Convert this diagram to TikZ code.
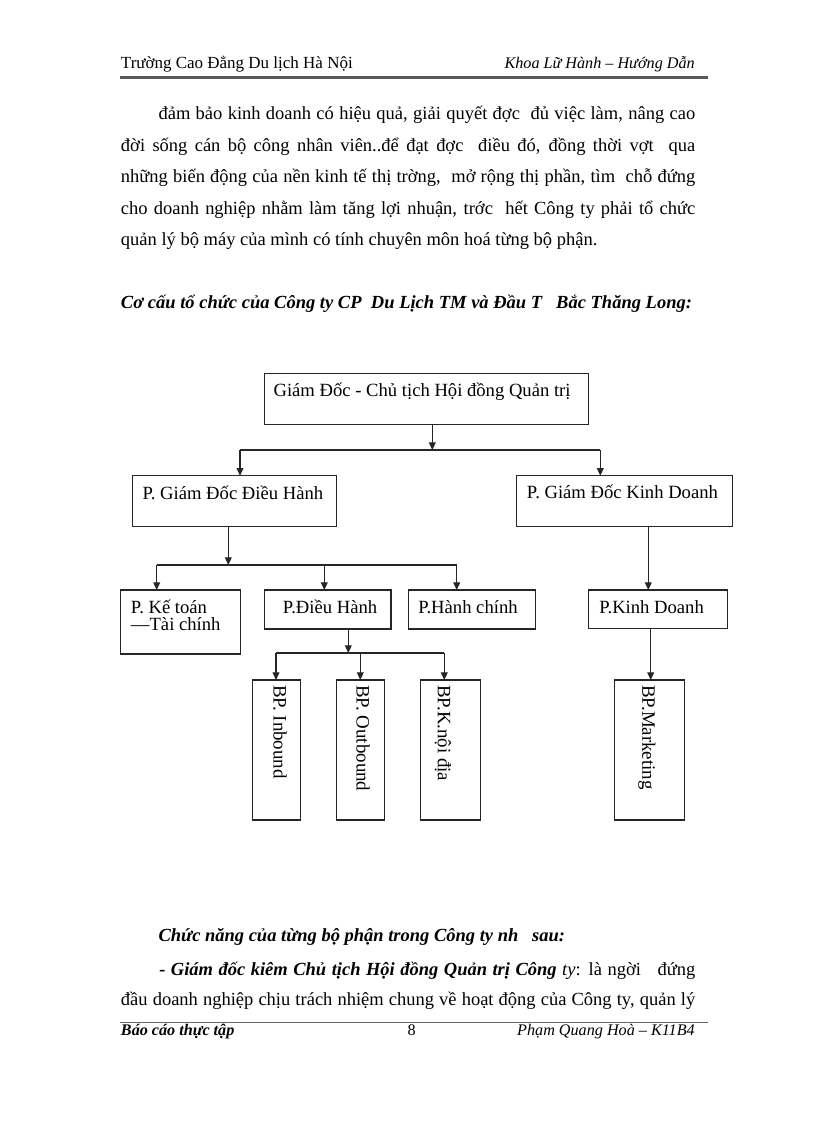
\documentclass[tikz,border=0pt]{standalone}
\usepackage{fontspec}
\setmainfont{Liberation Serif}
\usetikzlibrary{arrows.meta}
\begin{document}
\begin{tikzpicture}[x=0.73pt,y=-0.73pt,
  box/.style={draw=black!85, line width=0.8pt, inner sep=0pt, outer sep=0pt, anchor=north west},
  lbl/.style={inner sep=0pt, anchor=base west, font=\fontsize{13.6}{16}\selectfont},
  vlbl/.style={inner sep=0pt, anchor=west, rotate=-90, font=\fontsize{13.8}{16}\selectfont},
  body/.style={inner sep=0pt, anchor=base west, font=\fontsize{13.5}{16}\selectfont},
  conn/.style={draw=black!85, line width=0.8pt},
  arr/.style={conn, -{Triangle[length=5.6pt,width=5pt]}}]
\fill[white] (0,0) rectangle (816,1123);
% header
\node[inner sep=0pt, anchor=base west, font=\fontsize{12.4}{14}\selectfont] (hl) at (120.7,68.3) {Trường Cao Đẳng Du lịch Hà Nội};
\node[inner sep=0pt, anchor=base east, font=\fontsize{11.8}{14}\selectfont\itshape] (hr) at (695,68.3) {Khoa Lữ Hành – Hướng Dẫn};
\draw[line width=2pt, black!65] (120,77.8) -- (708.3,77.8);
% body text
\node[body] (l1) at (158.3,119.8) {\makebox[391.8pt][s]{đảm bảo kinh doanh có hiệu quả, giải quyết đợc \ đủ việc làm, nâng cao}};
\node[body] (l2) at (120.7,151.2) {\makebox[419.2pt][s]{đời sống cán bộ công nhân viên..để đạt đợc \ điều đó, đồng thời vợt \ qua}};
\node[body] (l3) at (120.7,182.6) {\makebox[419.2pt][s]{những biến động của nền kinh tế thị trờng, \ mở rộng thị phần, tìm \ chỗ đứng}};
\node[body] (l4) at (120.7,214) {\makebox[419.2pt][s]{cho doanh nghiệp nhằm làm tăng lợi nhuận, trớc \ hết Công ty phải tổ chức}};
\node[body] (l5) at (120.7,245.4) {quản lý bộ máy của mình có tính chuyên môn hoá từng bộ phận.};
\node[body, font=\fontsize{13.5}{16}\selectfont\bfseries\itshape] (h1) at (120.7,308.3) {\makebox[416.8pt][s]{Cơ cấu tổ chức của Công ty CP \ Du Lịch TM và Đầu T \ \ Bắc Thăng Long:}};
% chart boxes
\node[box, minimum width=324*0.73pt, minimum height=51*0.73pt] (top) at (264.3,373.3) {};
\node[box, minimum width=204.4*0.73pt, minimum height=51*0.73pt] (gddh) at (132.3,475.7) {};
\node[box, minimum width=215.6*0.73pt, minimum height=50.8*0.73pt] (gdkd) at (516.7,475.7) {};
\node[box, minimum width=119.6*0.73pt, minimum height=64*0.73pt] (kt) at (120.7,590) {};
\node[box, minimum width=126.7*0.73pt, minimum height=39*0.73pt] (dh) at (264.3,590) {};
\node[box, minimum width=127.4*0.73pt, minimum height=39*0.73pt] (hc) at (408.3,590) {};
\node[box, minimum width=139*0.73pt, minimum height=38.7*0.73pt] (kd) at (588.3,590) {};
\node[box, minimum width=48.4*0.73pt, minimum height=140*0.73pt] (bpin) at (252.3,680) {};
\node[box, minimum width=48*0.73pt, minimum height=140*0.73pt] (bpout) at (336.3,680) {};
\node[box, minimum width=60*0.73pt, minimum height=140*0.73pt] (bpnd) at (420.3,680) {};
\node[box, minimum width=70*0.73pt, minimum height=140*0.73pt] (bpmk) at (614.3,680) {};
% labels
\node[lbl] (ttop) at (273.3,396.7) {Giám Đốc - Chủ tịch Hội đồng Quản trị};
\node[lbl] (tgddh) at (142.3,499) {P. Giám Đốc Điều Hành};
\node[lbl] (tgdkd) at (526.7,498.3) {P. Giám Đốc Kinh Doanh};
\node[lbl] (tkt1) at (130.7,613) {P. Kế toán};
\node[lbl] (tkt2) at (130.7,630.7) {—Tài chính};
\node[lbl] (tdh) at (282.7,613) {P.Điều Hành};
\node[lbl] (thc) at (418,613) {P.Hành chính};
\node[lbl] (tkd) at (599,613.3) {P.Kinh Doanh};
\node[vlbl] (tin) at (280,685) {BP. Inbound};
\node[vlbl] (tout) at (363,685) {BP. Outbound};
\node[vlbl] (tnd) at (443,685) {BP.K.nội địa};
\node[vlbl] (tmk) at (647,685) {BP.Marketing};
% connectors
\coordinate (j1) at (432.3,450);
\coordinate (b1l) at (240,450);
\coordinate (b1r) at (600.3,450);
\draw[arr] (top.south -| j1) -- (j1);
\draw[conn] (b1l) -- (b1r);
\draw[arr] (b1l) -- (b1l |- gddh.north);
\draw[arr] (b1r) -- (b1r |- gdkd.north);
\coordinate (j2) at (228.3,565);
\coordinate (b2l) at (156.7,565);
\coordinate (b2m) at (324.3,565);
\coordinate (b2r) at (456.7,565);
\draw[arr] (gddh.south -| j2) -- (j2);
\draw[conn] (b2l) -- (b2r);
\draw[arr] (b2l) -- (b2l |- kt.north);
\draw[arr] (b2m) -- (b2m |- dh.north);
\draw[arr] (b2r) -- (b2r |- hc.north);
\coordinate (j4) at (648.3,560);
\draw[arr] (gdkd.south -| j4) -- (j4 |- kd.north);
\coordinate (j3) at (348.3,653);
\coordinate (b3l) at (276,653);
\coordinate (b3m) at (360.3,653);
\coordinate (b3r) at (444.3,653);
\draw[arr] (dh.south -| j3) -- (j3);
\draw[conn] (b3l) -- (b3r);
\draw[arr] (b3l) -- (b3l |- bpin.north);
\draw[arr] (b3m) -- (b3m |- bpout.north);
\draw[arr] (b3r) -- (b3r |- bpnd.north);
\coordinate (j5) at (650.7,660);
\draw[arr] (kd.south -| j5) -- (j5 |- bpmk.north);
% bottom text
\node[body, font=\fontsize{13.5}{16}\selectfont\bfseries\itshape] (c1) at (158.3,941.7) {Chức năng của từng bộ phận trong Công ty nh \ \ sau:};
\node[body] (c2) at (159,975) {\makebox[391.3pt][s]{\textbf{\textit{- Giám đốc kiêm Chủ tịch Hội đồng Quản trị Công}} \textit{ty}: là ngời \ \ đứng}};
\node[body] (c3) at (120.7,1005) {\makebox[419.2pt][s]{đầu doanh nghiệp chịu trách nhiệm chung về hoạt động của Công ty, quản lý}};
% footer
\draw[line width=0.6pt, black!60] (120,1022) -- (708.3,1022);
\node[inner sep=0pt, anchor=base west, font=\fontsize{11.8}{14}\selectfont\bfseries\itshape] (fl) at (120.7,1035.7) {Báo cáo thực tập};
\node[inner sep=0pt, anchor=base, font=\fontsize{11.8}{14}\selectfont] (fm) at (411.7,1035.7) {8};
\node[inner sep=0pt, anchor=base east, font=\fontsize{11.8}{14}\selectfont\itshape] (fr) at (695,1035.7) {Phạm Quang Hoà – K11B4};
\end{tikzpicture}
\end{document}
